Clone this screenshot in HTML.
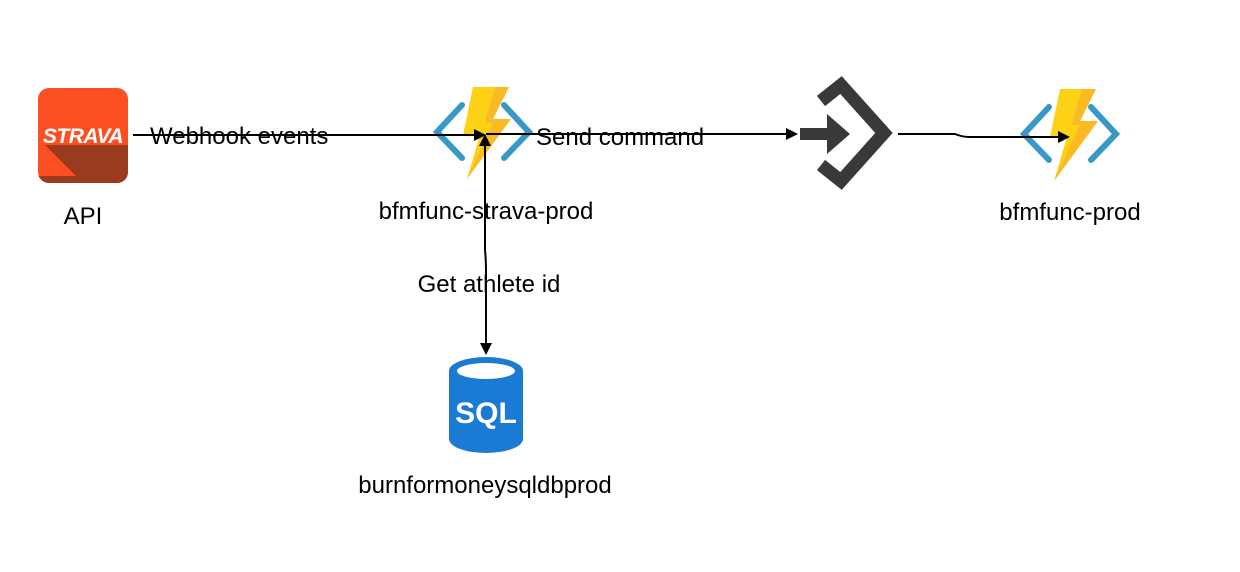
<!DOCTYPE html>
<html><head><meta charset="utf-8"><style>
html,body{margin:0;padding:0;background:#fff;}
svg{display:block;}
text{font-family:"Liberation Sans",Arial,sans-serif;font-size:24px;fill:#000;}
</style></head><body>
<svg width="1240" height="572" viewBox="0 0 1240 572" xmlns="http://www.w3.org/2000/svg">
<defs>
<clipPath id="sc"><rect x="38" y="88" width="90" height="95" rx="11"/></clipPath>
<g id="fn">
  <polyline points="29,18 4,45 29,71" fill="none" stroke="#3999c6" stroke-width="6" stroke-linecap="round"/>
  <polyline points="71,18 96,45 71,71" fill="none" stroke="#3999c6" stroke-width="6" stroke-linecap="round"/>
  <polygon points="40,0 76,0 60,32 78,32 34,92 47,48 30,48" fill="#fcd116"/>
  <polygon points="62,0 76,0 60,32 78,32 34,92 60,36 52,36" fill="#f9b428" opacity="0.8"/>
</g>
</defs>
<g clip-path="url(#sc)">
  <rect x="38" y="88" width="90" height="95" fill="#fc5022"/>
  <polygon points="45,145 128,145 128,183 83,183" fill="#9a3a1e"/>
  <rect x="38" y="176" width="90" height="7" fill="#9a3a1e"/>
</g>
<text x="83" y="143" text-anchor="middle" style="font-size:21px;font-weight:bold;fill:#fff;letter-spacing:-0.5px;font-style:italic">STRAVA</text>
<text x="83" y="224" text-anchor="middle">API</text>

<use href="#fn" x="433" y="87"/>
<text x="486" y="219" text-anchor="middle">bfmfunc-strava-prod</text>

<use href="#fn" x="1020" y="89"/>
<text x="1070" y="220" text-anchor="middle">bfmfunc-prod</text>

<polyline points="821,101 841,85 884,133 841,181 821,165" fill="none" stroke="#393939" stroke-width="13"/>
<rect x="800" y="128" width="35" height="12" fill="#393939"/>
<polygon points="827,114 850,134 827,154" fill="#393939"/>

<path d="M449,371 A37,14 0 0 1 523,371 L523,439 A37,14 0 0 1 449,439 Z" fill="#1b7bd4"/>
<ellipse cx="486" cy="371" rx="29" ry="8" fill="#fff"/>
<text x="486" y="423" text-anchor="middle" style="font-size:30px;font-weight:bold;fill:#fff">SQL</text>
<text x="485" y="493" text-anchor="middle">burnformoneysqldbprod</text>

<line x1="133" y1="135" x2="474" y2="135" stroke="#000" stroke-width="2"/>
<polygon points="474,129 486,135 474,141" fill="#000"/>
<text x="150" y="144">Webhook events</text>

<line x1="486" y1="134" x2="787" y2="134" stroke="#000" stroke-width="2"/>
<polygon points="786,128 798,134 786,140" fill="#000"/>
<text x="536" y="145">Send command</text>

<path d="M485,146 L485,250 Q486,260 486,270 L486,343" fill="none" stroke="#000" stroke-width="2"/>
<polygon points="479,146 485,134 491,146" fill="#000"/>
<polygon points="480,343 486,355 492,343" fill="#000"/>
<text x="489" y="292" text-anchor="middle">Get athlete id</text>

<path d="M898,134 L955,134 Q962,137 970,137 L1058,137" fill="none" stroke="#000" stroke-width="2"/>
<polygon points="1058,131 1070,137 1058,143" fill="#000"/>
</svg>
</body></html>
